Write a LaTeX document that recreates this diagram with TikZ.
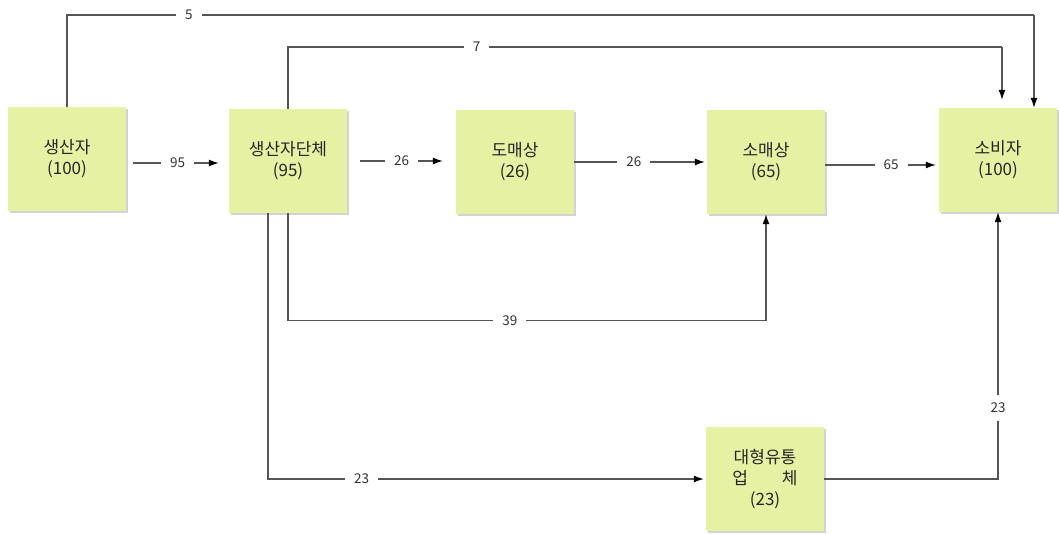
\documentclass[tikz,border=0pt]{standalone}
\usepackage{fontspec}
\setmainfont{Noto Sans CJK KR}
\usepackage{xcolor}
\usetikzlibrary{arrows.meta, positioning, calc, shadows}
\definecolor{boxfill}{RGB}{230, 241, 164}
\definecolor{linegray}{RGB}{85, 85, 85}

\begin{document}
\begin{tikzpicture}[x=1pt, y=-1pt]
    \tikzstyle{box} = [rectangle, minimum width=118pt, minimum height=104pt,
                       fill=boxfill, draw=none, align=center,
                       font=\fontsize{17}{21}\selectfont, text=black!85,
                       drop shadow={shadow xshift=2pt, shadow yshift=-2pt, opacity=0.35}]
    \tikzstyle{link} = [line width=1.2pt, color=linegray]
    \tikzstyle{arr} = [link, -{Latex[length=10pt, width=7pt, black]}]
    \tikzstyle{lbl} = [fill=white, inner xsep=9pt, inner ysep=8pt,
                       font=\fontsize{13.5}{15}\selectfont, text=black!80]

    \useasboundingbox (0,0) rectangle (1059,534);

    % boxes
    \node[box] (prod)   at (67,159)  {생산자\\(100)};
    \node[box] (assoc)  at (288,161) {생산자단체\\(95)};
    \node[box] (whole)  at (515,162) {도매상\\(26)};
    \node[box] (retail) at (766,162) {소매상\\(65)};
    \node[box] (cons)   at (998,160) {소비자\\(100)};
    \node[box] (large)  at (765,479) {대형유통\\업\hspace{2em}체\\(23)};

    \coordinate (top5) at (1034,15);
    \coordinate (top7) at (1002,47);

    % main chain
    \draw[arr, shorten <=7pt, shorten >=10pt] ($(prod.east)+(0,4)$) -- node[lbl] (l95) {95} ($(prod.east -| assoc.west)+(0,4)$);
    \draw[arr, shorten <=13pt, shorten >=13pt] (assoc.east) -- node[lbl] (l26a) {26} (assoc.east -| whole.west);
    \draw[arr, shorten >=2pt] (whole.east) -- node[lbl, pos=0.45] (l26b) {26} (whole.east -| retail.west);
    \draw[arr, shorten >=3pt] ($(retail.east)+(0,3)$) -- node[lbl, pos=0.58] (l65) {65} ($(retail.east -| cons.west)+(0,3)$);

    % direct routes to consumer
    \draw[link] (prod.north) |- node[lbl, pos=0.563] (l5) {5} (top5);
    \draw[arr] (top5) -- (top5 |- cons.north);
    \draw[link] (assoc.north) |- node[lbl, pos=0.632] (l7) {7} (top7);
    \draw[arr, shorten >=8pt] (top7) -- (top7 |- cons.north);

    % lower routes
    \draw[arr] (assoc.south) -- ++(0,107) -| node[lbl, pos=0.232] (l39) {39} (retail.south);
    \draw[arr, shorten >=2pt] ($(assoc.south)+(-20,0)$) |- node[lbl, pos=0.607] (l23a) {23} (large.west);
    \draw[arr] (large.east) -| node[lbl, pos=0.633] (l23b) {23} (cons.south);
\end{tikzpicture}
\end{document}
